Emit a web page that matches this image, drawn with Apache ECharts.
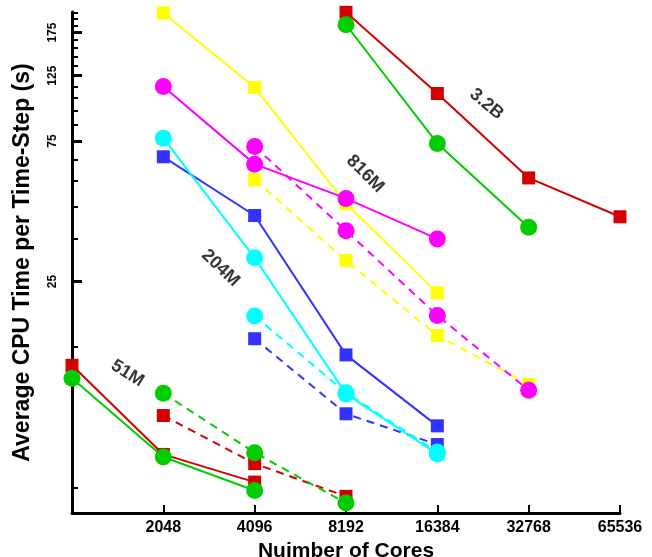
<!DOCTYPE html>
<html>
<head>
<meta charset="utf-8">
<script src="https://cdn.jsdelivr.net/npm/echarts@6/dist/echarts.min.js"></script>
<style>
  html, body { margin: 0; padding: 0; background: #fff; }
  #chart { width: 652px; height: 557px; }
</style>
</head>
<body>
<div id="chart"></div>
<script>
// cores on x (log2), CPU seconds per time-step on y (log10)
var coreTicks = [2048, 4096, 8192, 16384, 32768, 65536];
var majorTicks = [25, 75, 125, 175];
var minorTicks = [5, 15, 35, 45, 55, 65, 85, 95, 105, 115, 135, 145, 155, 165, 185, 195, 205];

// 3.2B
var red32B = [[8192, 205], [16384, 108.7], [32768, 56.2], [65536, 41.5]];
var green32B = [[8192, 186], [16384, 73.6], [32768, 38.2]];
// 816M
var yellow816 = [[2048, 204], [4096, 114], [8192, 46], [16384, 22.9]];
var yellow816Dash = [[4096, 55.4], [8192, 29.5], [16384, 16.4], [32768, 11.2]];
var magenta816 = [[2048, 114.8], [4096, 62.6], [8192, 47.9], [16384, 34.9]];
var magenta816Dash = [[4096, 71.9], [8192, 37.2], [16384, 19.2], [32768, 10.7]];
// 204M
var blue204 = [[2048, 66.3], [4096, 41.9], [8192, 14.1], [16384, 8.1]];
var cyan204 = [[2048, 76.7], [4096, 30.1], [8192, 10.4], [16384, 6.5]];
var blue204Dash = [[4096, 16.0], [8192, 8.9], [16384, 7.0]];
var cyan204Dash = [[4096, 19.1], [8192, 10.5], [16384, 6.6]];
// 51M
var red51 = [[1024, 13.0], [2048, 6.48], [4096, 5.22]];
var green51 = [[1024, 11.75], [2048, 6.35], [4096, 4.89]];
var red51Dash = [[2048, 8.78], [4096, 6.03], [8192, 4.67]];
var green51Dash = [[2048, 10.45], [4096, 6.57], [8192, 4.43]];

// problem size labels: [cores, seconds, text, angle]
var sizeLabels = [
  [23800, 100, '3.2B', -40],
  [9480, 58, '816M', -45],
  [3160, 27.8, '204M', -44],
  [1560, 12.2, '51M', -32]
];

var RED = '#d40000', GREEN = '#00cc00', YELLOW = '#ffff00',
    MAGENTA = '#ff00ff', CYAN = '#00ffff', BLUE = '#3333ff';
var FONT = '"Liberation Sans", Arial, Helvetica, sans-serif';

function lg2(v) { return Math.log(v) / Math.LN2; }
function lg10(v) { return Math.log(v) / Math.LN10; }
function toLog(pts) { return pts.map(function (p) { return [lg2(p[0]), lg10(p[1])]; }); }

function line(data, color, symbol, dashed) {
  return {
    type: 'line',
    data: toLog(data),
    symbol: symbol,
    symbolSize: symbol === 'circle' ? 17 : 13,
    clip: false,
    lineStyle: { color: color, width: 2, type: dashed ? [8, 6] : 'solid' },
    itemStyle: { color: color },
    emphasis: { disabled: true },
    z: 3
  };
}

var series = [
  line(red51Dash, RED, 'rect', true),
  line(green51Dash, GREEN, 'circle', true),
  line(red51, RED, 'rect', false),
  line(green51, GREEN, 'circle', false),
  line(blue204Dash, BLUE, 'rect', true),
  line(blue204, BLUE, 'rect', false),
  line(cyan204Dash, CYAN, 'circle', true),
  line(cyan204, CYAN, 'circle', false),
  line(yellow816Dash, YELLOW, 'rect', true),
  line(yellow816, YELLOW, 'rect', false),
  line(magenta816Dash, MAGENTA, 'circle', true),
  line(magenta816, MAGENTA, 'circle', false),
  line(red32B, RED, 'rect', false),
  line(green32B, GREEN, 'circle', false),
  {
    type: 'scatter',
    symbolSize: 0,
    silent: true,
    data: sizeLabels.map(function (s) {
      return {
        value: [lg2(s[0]), lg10(s[1])],
        label: {
          show: true, position: 'inside', formatter: s[2], rotate: s[3],
          fontFamily: FONT, fontWeight: 'bold', fontSize: 18, color: '#000'
        }
      };
    }),
    z: 5
  }
];

var yMin = lg10(4.1), yMax = lg10(205.5);
var axisBlack = { show: true, lineStyle: { color: '#000', width: 3 } };

var option = {
  animation: false,
  backgroundColor: '#fff',
  grid: { left: 72, right: 32, top: 12, bottom: 44, containLabel: false, outerBoundsMode: 'none' },
  xAxis: {
    type: 'value',
    min: 10, max: 16, interval: 1,
    name: 'Nuimber of Cores',
    nameLocation: 'middle',
    nameGap: 16,
    nameTextStyle: { fontFamily: FONT, fontWeight: 'bold', fontSize: 21, color: '#000', lineHeight: 21 },
    axisLine: axisBlack,
    axisTick: { show: true, inside: true, length: 8, lineStyle: { color: '#000', width: 2 } },
    axisLabel: {
      margin: 7,
      fontFamily: FONT, fontWeight: 'bold', fontSize: 16, color: '#000',
      customValues: coreTicks.map(lg2),
      formatter: function (v) { return String(Math.round(Math.pow(2, v))); }
    },
    splitLine: { show: false }
  },
  yAxis: [
    {
      type: 'value', position: 'left',
      min: yMin, max: yMax,
      name: 'Average CPU Time per Time-Step (s)',
      nameLocation: 'middle',
      nameGap: 38,
      nameRotate: 90,
      nameTextStyle: { fontFamily: FONT, fontWeight: 'bold', fontSize: 23, color: '#000' },
      axisLine: axisBlack,
      axisTick: { show: true, inside: true, length: 10, lineStyle: { color: '#000', width: 3 },
        customValues: majorTicks.map(lg10) },
      axisLabel: {
        rotate: 90, margin: 13,
        fontFamily: FONT, fontWeight: 'bold', fontSize: 12, color: '#000',
        customValues: majorTicks.map(lg10),
        formatter: function (v) { return String(Math.round(Math.pow(10, v))); }
      },
      splitLine: { show: false }
    },
    {
      type: 'value', position: 'left', offset: 0,
      min: yMin, max: yMax,
      axisLine: { show: false },
      axisTick: { show: true, inside: true, length: 6, lineStyle: { color: '#000', width: 2 },
        customValues: minorTicks.map(lg10) },
      axisLabel: { show: false },
      splitLine: { show: false }
    }
  ],
  series: series
};

var chart = echarts.init(document.getElementById('chart'), null, { renderer: 'canvas' });
chart.setOption(option);
</script>
</body>
</html>
